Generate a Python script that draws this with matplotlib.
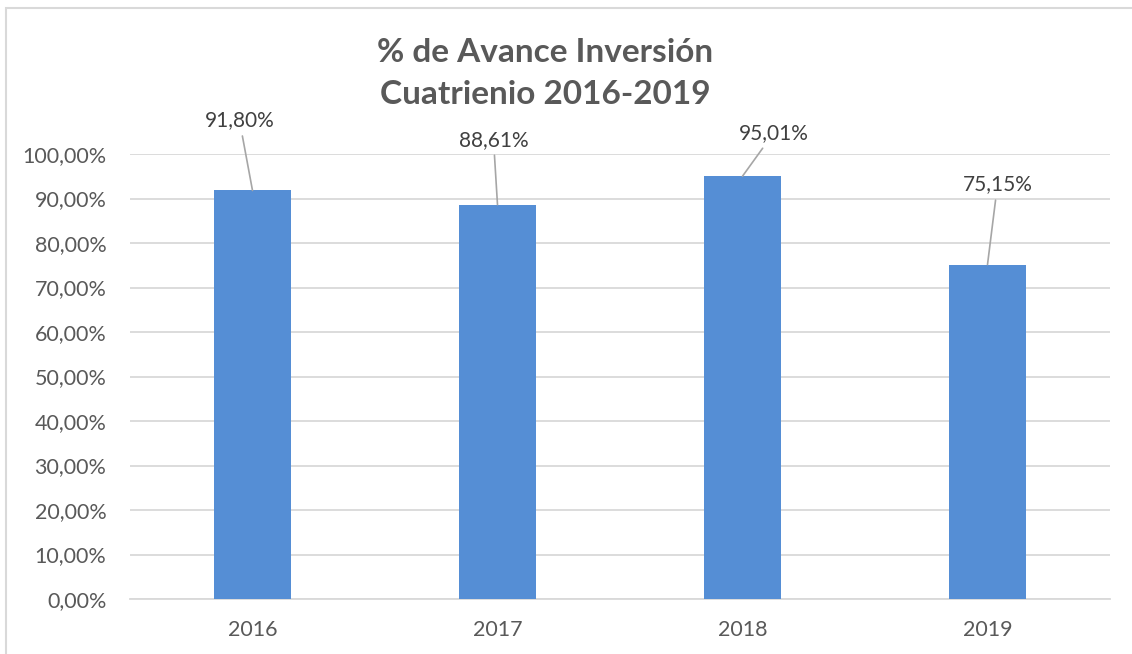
import matplotlib.pyplot as plt
from matplotlib.patches import Rectangle

# data
years = ['2016', '2017', '2018', '2019']
avance = [91.80, 88.61, 95.01, 75.15]
yticks = [0, 10, 20, 30, 40, 50, 60, 70, 80, 90, 100]
title_lines = ['% de Avance Inversión', 'Cuatrienio 2016-2019']

# label offsets (pixels) from bar top to label centre
label_off = [(-13, 70), (-4, 65), (31, 43), (10, 80)]

plt.rcParams['font.family'] = ['Lato', 'DejaVu Sans']

fig = plt.figure(figsize=(11.32, 6.54), dpi=100)
ax = fig.add_axes([130/1132, 1-599/654, 980/1132, 445/654])

x = range(len(years))
ax.bar(x, avance, width=0.314, color='#558ed5', zorder=3)

ax.set_xlim(-0.5, 3.5)
ax.set_ylim(0, 100)
ax.set_yticks(yticks)
ax.set_yticklabels([f'{t:.2f}'.replace('.', ',') + '%' for t in yticks])
ax.set_xticks(list(x))
ax.set_xticklabels(years)
ax.tick_params(axis='both', length=0, labelsize=15.5, labelcolor='#595959')
ax.tick_params(axis='y', pad=17)
ax.tick_params(axis='x', pad=15)
ax.yaxis.grid(True, color='#d9d9d9', lw=1.3, zorder=0)
ax.set_axisbelow(True)
for s in ['top', 'right', 'left']:
    ax.spines[s].set_visible(False)
ax.spines['bottom'].set_color('#d9d9d9')
ax.spines['bottom'].set_linewidth(1.3)

for i, v in enumerate(avance):
    dx, dy = label_off[i]
    ax.annotate(f'{v:.2f}'.replace('.', ',') + '%', xy=(i, v), xytext=(dx, dy),
                textcoords='offset pixels', ha='center', va='center',
                fontsize=15, color='#404040', annotation_clip=False,
                arrowprops=dict(arrowstyle='-', color='#a6a6a6', lw=1.2,
                                shrinkA=2, shrinkB=0))

# title, two lines placed separately
for line, ypix in zip(title_lines, [52, 95]):
    fig.text(545/1132, 1-ypix/654, line, ha='center', va='center', fontsize=24,
             fontweight='bold', color='#595959')

fig.add_artist(Rectangle((6/1132, -0.05), 1.2, 1.05-8/654, transform=fig.transFigure,
                         fill=False, edgecolor='#d9d9d9', lw=1.5))

fig.savefig('out.png', dpi=100)
